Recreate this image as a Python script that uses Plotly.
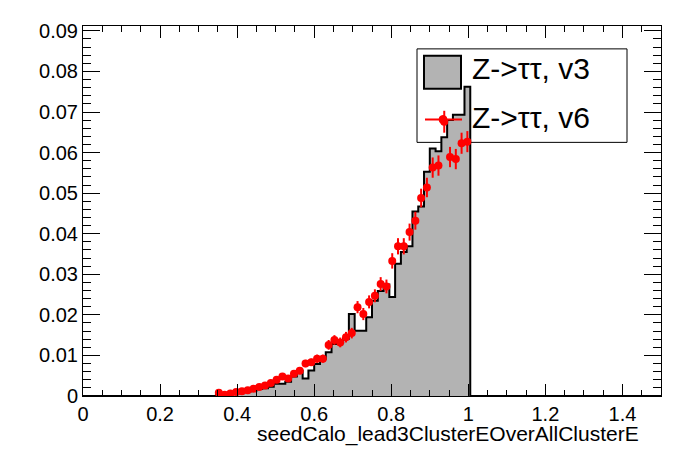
import numpy as np
import plotly.graph_objects as go

# histogram binning: 100 bins over [0, 1.5]; only the filled range is listed
bin_width = 0.015
first_edge = 0.345

# Z->tautau, v3 (grey filled histogram), one value per bin from 0.345 to 1.005
v3_vals = [0.0003, 0.0003, 0.0005, 0.0007, 0.0009, 0.0011, 0.0013, 0.0017,
           0.0019, 0.0023, 0.0030, 0.0030, 0.0035, 0.0048, 0.0062, 0.0043,
           0.0063, 0.0079, 0.0092, 0.0108, 0.0128, 0.0132, 0.0141, 0.0202,
           0.0161, 0.0161, 0.0194, 0.0235, 0.0259, 0.0275, 0.0244, 0.0326,
           0.0355, 0.0369, 0.0455, 0.0467, 0.0553, 0.0610, 0.0603, 0.0638,
           0.0680, 0.0693, 0.0693, 0.0762]

# Z->tautau, v6 (red points with errors), same bins
v6_vals = [0.0008, 0.0003, 0.0006, 0.0010, 0.0012, 0.0014, 0.0018, 0.0022,
           0.0026, 0.0032, 0.0040, 0.0048, 0.0043, 0.0055, 0.0062, 0.0080,
           0.0083, 0.0092, 0.0092, 0.0126, 0.0138, 0.0132, 0.0145, 0.0155,
           0.0219, 0.0202, 0.0232, 0.0247, 0.0276, 0.0270, 0.0333, 0.0369,
           0.0369, 0.0404, 0.0432, 0.0488, 0.0514, 0.0563, 0.0568, 0.0676,
           0.0589, 0.0584, 0.0623, 0.0627]
v6_errs = [0.0003, 0.0002, 0.00025, 0.0003, 0.00035, 0.0004, 0.00045, 0.0005,
           0.00055, 0.0006, 0.00065, 0.0007, 0.0007, 0.00075, 0.0008, 0.0009,
           0.0009, 0.0010, 0.0010, 0.0012, 0.0012, 0.0012, 0.0013, 0.0013,
           0.0015, 0.0015, 0.0016, 0.0016, 0.0017, 0.0017, 0.0019, 0.0020,
           0.0020, 0.0021, 0.0022, 0.0023, 0.0024, 0.0025, 0.0025, 0.0027,
           0.0025, 0.0025, 0.0026, 0.0026]

x_title = "seedCalo_lead3ClusterEOverAllClusterE"
label_v3 = "Z->\u03c4\u03c4, v3"
label_v6 = "Z->\u03c4\u03c4, v6"

# --------------------------------------------------------
n = len(v3_vals)
edges = first_edge + bin_width * np.arange(n + 1)
centers = edges[:-1] + bin_width / 2

# step outline over the whole axis (zero outside the filled range)
step_x = np.concatenate([[0.0], edges, [1.5]])
step_y = np.concatenate([[0.0], v3_vals, [0.0, 0.0]])

font = "Liberation Sans, Arial, Helvetica, sans-serif"

hist = go.Scatter(
    x=step_x, y=step_y,
    mode="lines", line=dict(shape="hv", color="black", width=2),
    fill="tozeroy", fillcolor="#b3b3b3",
    showlegend=False, hoverinfo="skip",
)

points = go.Scatter(
    x=centers, y=v6_vals,
    mode="markers",
    marker=dict(symbol="circle", size=8, color="#ff0000"),
    error_y=dict(type="data", array=v6_errs, color="#ff0000",
                 thickness=2, width=0),
    showlegend=False,
)

fig = go.Figure(data=[hist, points])


# page pixel -> paper coords (plot frame spans x 83..661, y 24..396 on the page)
def px(v):
    return (v - 83) / 578.0


def py(v):
    return (396 - v) / 372.0


shapes = [
    # legend frame
    dict(type="rect", xref="paper", yref="paper",
         x0=px(417), x1=px(627), y0=py(141), y1=py(47),
         line=dict(color="black", width=1), fillcolor="white", layer="below"),
    # v3 symbol
    dict(type="rect", xref="paper", yref="paper",
         x0=px(424), x1=px(461), y0=py(87), y1=py(54),
         line=dict(color="black", width=2), fillcolor="#b3b3b3"),
    # v6 symbol
    dict(type="line", xref="paper", yref="paper",
         x0=px(425), x1=px(462), y0=py(118), y1=py(118),
         line=dict(color="#ff0000", width=2)),
    dict(type="circle", xref="paper", yref="paper",
         xsizemode="pixel", ysizemode="pixel",
         xanchor=px(443), yanchor=py(118),
         x0=-4, x1=4, y0=-4, y1=4,
         line=dict(color="#ff0000", width=1), fillcolor="#ff0000"),
]

annotations = [
    dict(text=label_v3, xref="paper", yref="paper", x=px(470), y=py(67),
         xanchor="left", yanchor="middle", showarrow=False,
         font=dict(family=font, size=30, color="black")),
    dict(text=label_v6, xref="paper", yref="paper", x=px(470), y=py(116),
         xanchor="left", yanchor="middle", showarrow=False,
         font=dict(family=font, size=30, color="black")),
    dict(text=x_title, xref="paper", yref="paper", x=px(641), y=py(434),
         xanchor="right", yanchor="middle", showarrow=False,
         font=dict(family=font, size=21, color="black")),
]

axis_common = dict(
    showgrid=False, zeroline=False,
    showline=True, linecolor="black", linewidth=1, mirror="ticks",
    ticks="inside", tickcolor="black", tickwidth=1,
    tickfont=dict(family=font, size=20, color="black"),
)

# the page body adds an 8px offset, so margins are shifted by that amount
fig.update_layout(
    width=696, height=472,
    margin=dict(l=75, r=43, t=16, b=84),
    paper_bgcolor="white", plot_bgcolor="white",
    showlegend=False,
    shapes=shapes, annotations=annotations,
    xaxis=dict(range=[0, 1.5], tick0=0, dtick=0.2, ticklen=12,
               minor=dict(dtick=0.05, ticklen=6, ticks="inside",
                          tickcolor="black"),
               **axis_common),
    yaxis=dict(range=[0, 0.0912], tick0=0, dtick=0.01, ticklen=17,
               minor=dict(dtick=0.002, ticklen=8, ticks="inside",
                          tickcolor="black"),
               **axis_common),
)

fig.write_html("out.html")
